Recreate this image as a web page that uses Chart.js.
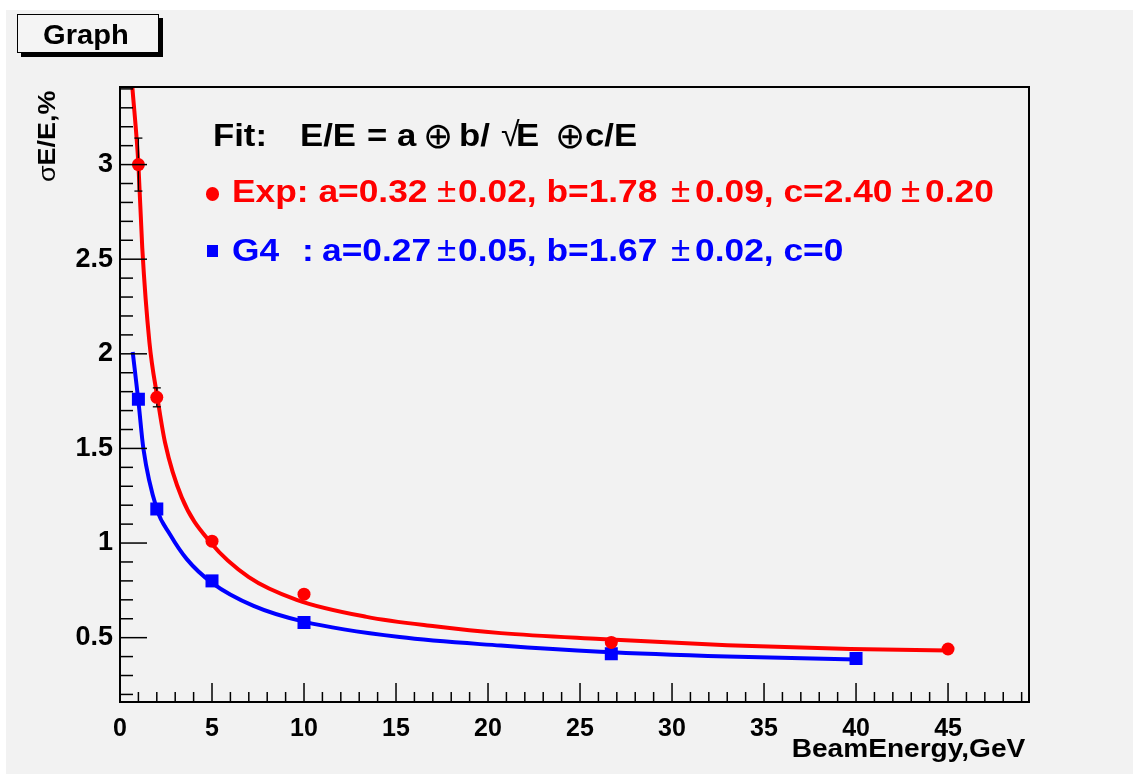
<!DOCTYPE html>
<html>
<head>
<meta charset="utf-8">
<script src="https://cdn.jsdelivr.net/npm/chart.js@4"></script>
<style>
  body { margin: 0; background: #fff; }
  #wrap { position: relative; width: 1133px; height: 775px; overflow: hidden; }
  #panel { position: absolute; left: 6px; top: 10px; right: 0; bottom: 1px; background: #f2f2f2; }
  #myChart { position: absolute; left: 0; top: 0; }
  .lbl { position: absolute; white-space: pre; line-height: 1; font-family: 'Liberation Sans', Arial, sans-serif;
         font-weight: bold; transform-origin: 0 0; }
  .sym { font-weight: normal; }
  .mark { position: absolute; }
  #graphBox { position: absolute; left: 17px; top: 14px; width: 140px; height: 37px; border: 1px solid #000;
              background: #f4f4f4; box-shadow: 4px 4px 0 #000; }
</style>
</head>
<body>
<div id="wrap">
  <div id="panel"></div>
  <div id="graphBox"></div>
  <canvas id="myChart" width="1133" height="775"></canvas>
</div>
<script>
// measured points
const expEnergy = [1, 2, 5, 10, 26.7, 45];
const expSigma  = [3.0, 1.77, 1.01, 0.73, 0.475, 0.44];
const expError  = [0.14, 0.05, 0.02, 0.015, 0.01, 0.01];
const g4Energy  = [1, 2, 5, 10, 26.7, 40];
const g4Sigma   = [1.76, 1.18, 0.80, 0.58, 0.415, 0.39];

// fit curves
const expFitEnergy = [0.67, 1.0, 1.21, 1.6, 2.03, 2.45, 3.36, 4.95, 7, 9.6, 13.4, 17.1, 20.7, 26.1, 33, 39.7, 45];
const expFitSigma  = [3.41, 3.0, 2.56, 2.06, 1.77, 1.53, 1.24, 1.0, 0.82, 0.70, 0.61, 0.56, 0.524, 0.493, 0.46, 0.44, 0.432];
const g4FitEnergy  = [0.69, 1.0, 1.27, 2.0, 2.72, 3.63, 5.0, 7.26, 9.98, 15.2, 20.7, 26.1, 33, 40];
const g4FitSigma   = [2.01, 1.75, 1.50, 1.18, 1.045, 0.915, 0.79, 0.668, 0.585, 0.503, 0.458, 0.425, 0.40, 0.385];

// axes
const xTickValues = [0, 5, 10, 15, 20, 25, 30, 35, 40, 45];
const yTickValues = [0.5, 1, 1.5, 2, 2.5, 3];
const xRange = [0, 49.4];
const yRange = [0.16, 3.41];

const fontFam = "'Liberation Sans', Arial, sans-serif";
const markerR = 6.5;

const zip = (xs, ys) => xs.map((v, i) => ({ x: v, y: ys[i] }));

function line(ctx, x1, y1, x2, y2) {
    ctx.beginPath();
    ctx.moveTo(x1, y1);
    ctx.lineTo(x2, y2);
    ctx.stroke();
}

// error bars, inward ticks and the frame
const rootFrame = {
    id: 'rootFrame',
    afterDatasetsDraw(chart) {
        const { ctx, chartArea: a, scales: { x, y } } = chart;
        ctx.save();
        ctx.strokeStyle = '#000';
        ctx.lineWidth = 1.3;
        expEnergy.forEach((e, i) => {
            const px = x.getPixelForValue(e);
            const py = y.getPixelForValue(expSigma[i]);
            const top = y.getPixelForValue(expSigma[i] + expError[i]);
            const bot = y.getPixelForValue(expSigma[i] - expError[i]);
            if (py - top <= markerR + 1) return;
            line(ctx, px, top, px, py - markerR);
            line(ctx, px, py + markerR, px, bot);
            line(ctx, px - 4, top, px + 4, top);
            line(ctx, px - 4, bot, px + 4, bot);
        });

        ctx.lineWidth = 1.5;
        for (let k = 1; k <= 49; k++) {
            const px = x.getPixelForValue(k);
            const len = k % 5 === 0 ? 19 : 10;
            line(ctx, px, a.bottom, px, a.bottom - len);
        }
        for (let k = 2; k <= 34; k++) {
            const py = y.getPixelForValue(k / 10);
            const len = k % 5 === 0 ? 27 : 13;
            line(ctx, a.left, py, a.left + len, py);
        }
        ctx.lineWidth = 2;
        ctx.strokeRect(a.left, a.top, a.width, a.height);
        ctx.restore();
    }
};

const ctx = document.getElementById('myChart').getContext('2d');
const myChart = new Chart(ctx, {
    type: 'scatter',
    data: {
        datasets: [
            { data: zip(expEnergy, expSigma), pointStyle: 'circle', pointRadius: markerR,
              backgroundColor: '#ff0000', borderWidth: 0 },
            { data: zip(g4Energy, g4Sigma), pointStyle: 'rect', pointRadius: 9.2,
              backgroundColor: '#0000ff', borderWidth: 0 },
            { data: zip(expFitEnergy, expFitSigma), showLine: true, pointRadius: 0,
              borderColor: '#ff0000', borderWidth: 4, cubicInterpolationMode: 'monotone' },
            { data: zip(g4FitEnergy, g4FitSigma), showLine: true, pointRadius: 0,
              borderColor: '#0000ff', borderWidth: 4, cubicInterpolationMode: 'monotone' }
        ]
    },
    options: {
        responsive: false,
        animation: false,
        devicePixelRatio: 1,
        layout: { padding: { top: 87, right: 104, left: 0, bottom: 0 } },
        plugins: { legend: { display: false }, tooltip: { enabled: false } },
        scales: {
            x: {
                type: 'linear', min: xRange[0], max: xRange[1],
                grid: { display: false, drawTicks: false }, border: { display: false },
                afterBuildTicks: s => { s.ticks = xTickValues.map(v => ({ value: v })); },
                afterFit: s => { s.height = 73; },
                ticks: { color: '#000', padding: 12, autoSkip: false, maxRotation: 0,
                          font: { family: fontFam, weight: 'bold', size: 25 },
                          callback: v => String(v) }
            },
            y: {
                type: 'linear', min: yRange[0], max: yRange[1],
                grid: { display: false, drawTicks: false }, border: { display: false },
                afterBuildTicks: s => { s.ticks = yTickValues.map(v => ({ value: v })); },
                afterFit: s => { s.width = 120; },
                ticks: { color: '#000', padding: 7,
                          font: { family: fontFam, weight: 'bold', size: 27 },
                          callback: v => String(v) }
            }
        }
    },
    plugins: [rootFrame]
});

// texts
const wrap = document.getElementById('wrap');
function addText(html, x, base, size, color, sx) {
    const s = document.createElement('span');
    s.className = 'lbl';
    s.innerHTML = html;
    s.style.left = x + 'px';
    s.style.top = (base - 0.8467 * size) + 'px';
    s.style.fontSize = size + 'px';
    s.style.color = color;
    s.style.transform = 'scaleX(' + (sx || 1) + ')';
    wrap.appendChild(s);
    return s;
}
function addMark(cx, cy, size, color, round) {
    const d = document.createElement('div');
    d.className = 'mark';
    d.style.left = (cx - size / 2) + 'px';
    d.style.top = (cy - size / 2) + 'px';
    d.style.width = size + 'px';
    d.style.height = size + 'px';
    d.style.background = color;
    if (round) d.style.borderRadius = '50%';
    wrap.appendChild(d);
}

addText('Graph', 43, 45, 28, '#000', 1.04);

const fs = 31, sx = 1.14;
const oplus = '<span class="sym" style="font-family:\'DejaVu Sans\'">\u2295</span>';
addText('Fit:', 213, 146, fs, '#000', 1.12);
addText('E/E', 300, 146, fs, '#000', 1.12);
addText('=', 367, 146, fs, '#000', 1.12);
addText('a', 397, 146, fs, '#000', 1.12);
addText(oplus, 423, 148, 36, '#000', 1);
addText('b/', 459, 146, fs, '#000', 1.12);
addText('<span class="sym">\u221A</span>', 501, 146, 34, '#000', 1);
addText('E', 516, 146, fs, '#000', 1.12);
addText(oplus, 555, 148, 36, '#000', 1);
addText('c/E', 585, 146, fs, '#000', 1.12);

const red = '#ff0000', blue = '#0000ff';
const pm = '<span class="sym">\u00B1</span>';
addMark(212.7, 194, 13.4, red, true);
addText('Exp: a=0.32', 232, 202, fs, red, sx);
addText(pm, 437, 202, 35, red, 1);
addText('0.02, b=1.78', 458, 202, fs, red, sx);
addText(pm, 671, 202, 35, red, 1);
addText('0.09, c=2.40', 695, 202, fs, red, sx);
addText(pm, 901, 202, 35, red, 1);
addText('0.20', 925, 202, fs, red, sx);

addMark(212.5, 251, 11.7, blue, false);
addText('G4', 232, 261, fs, blue, sx);
addText(':', 302, 261, fs, blue, sx);
addText('a=0.27', 322, 261, fs, blue, sx);
addText(pm, 437, 261, 35, blue, 1);
addText('0.05, b=1.67', 458, 261, fs, blue, sx);
addText(pm, 671, 261, 35, blue, 1);
addText('0.02, c=0', 695, 261, fs, blue, sx);

// axis titles
const xt = addText('BeamEnergy,GeV', 0, 757, 26, '#000', 1);
xt.style.left = 'auto';
xt.style.right = (1133 - 1025) + 'px';
xt.style.transformOrigin = '100% 0';
xt.style.transform = 'scaleX(1.08)';

const yt = addText('<span class="sym">\u03C3</span>E/E,%', 55 - 0.8467 * 24, 0, 24, '#000', 1);
yt.style.top = '182px';
yt.style.transform = 'rotate(-90deg) scaleX(1.12)';
</script>
</body>
</html>
